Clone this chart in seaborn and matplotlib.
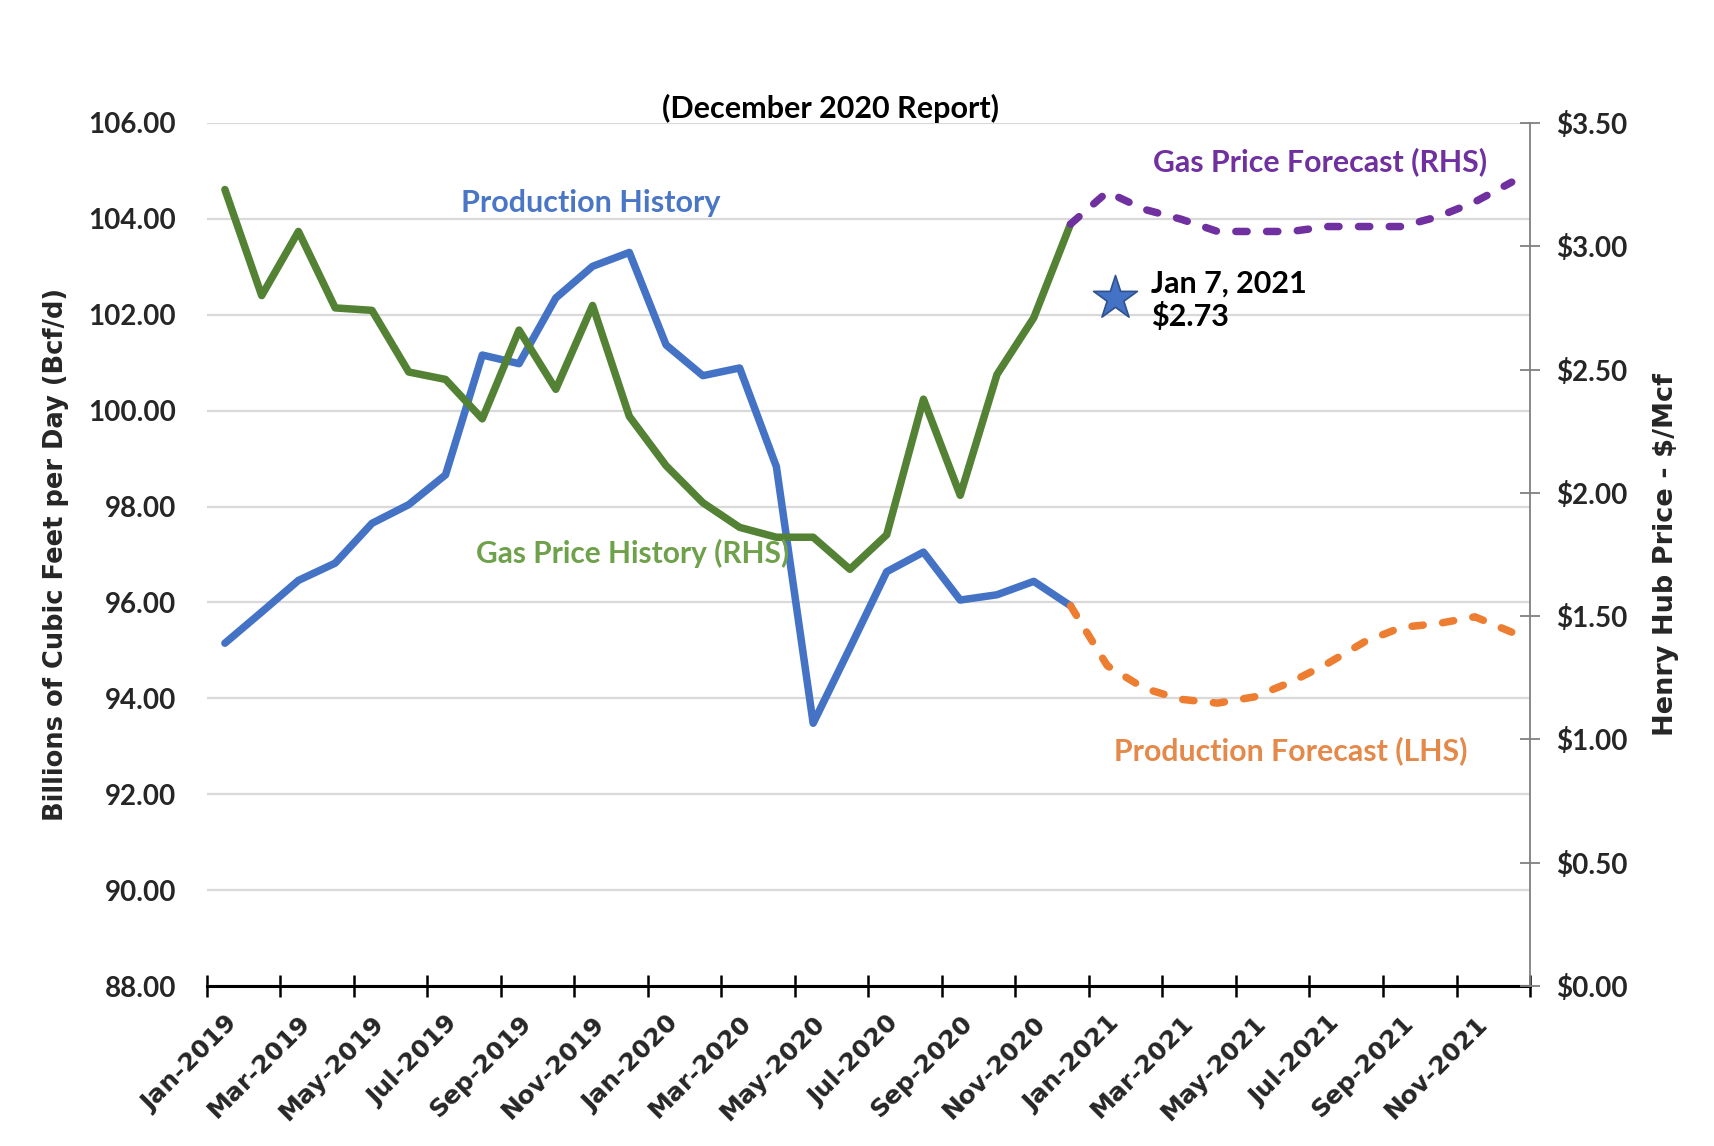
import numpy as np
import pandas as pd
import matplotlib
matplotlib.use("Agg")
import matplotlib.pyplot as plt
import seaborn as sns

# ---------------- data ----------------
tick_labels = ["Jan-2019", "Mar-2019", "May-2019", "Jul-2019", "Sep-2019", "Nov-2019",
               "Jan-2020", "Mar-2020", "May-2020", "Jul-2020", "Sep-2020", "Nov-2020",
               "Jan-2021", "Mar-2021", "May-2021", "Jul-2021", "Sep-2021", "Nov-2021"]
n_months = 36

# Production (Bcf/d), monthly Jan-2019 .. Dec-2020
prod_hist = [95.15, 95.80, 96.46, 96.82, 97.65, 98.04, 98.66, 101.16, 100.98, 102.35,
             103.01, 103.30, 101.37, 100.73, 100.89, 98.83, 93.48, 95.05, 96.64, 97.05,
             96.05, 96.16, 96.44, 95.93]
# Production forecast Dec-2020 .. Dec-2021
prod_fcst = [95.93, 94.68, 94.21, 93.98, 93.90, 94.03, 94.34, 94.73, 95.18, 95.48,
             95.56, 95.70, 95.38]
# Henry Hub price ($/Mcf), Jan-2019 .. Dec-2020
price_hist = [3.23, 2.80, 3.06, 2.75, 2.74, 2.49, 2.46, 2.30, 2.66, 2.42, 2.76, 2.31,
              2.11, 1.96, 1.86, 1.82, 1.82, 1.69, 1.83, 2.38, 1.99, 2.48, 2.71, 3.09]
# Price forecast Dec-2020 .. Dec-2021
price_fcst = [3.09, 3.22, 3.15, 3.11, 3.06, 3.06, 3.06, 3.08, 3.08, 3.08, 3.12, 3.18, 3.26]

star_x = 24.2          # Jan 7, 2021 (month index)
star_price = 2.79
star_label = "Jan 7, 2021\n$2.73"

left_ticks = [88, 90, 92, 94, 96, 98, 100, 102, 104, 106]
right_ticks = [0.0, 0.5, 1.0, 1.5, 2.0, 2.5, 3.0, 3.5]

df_ph = pd.DataFrame({"m": np.arange(len(prod_hist)), "v": prod_hist})
df_pf = pd.DataFrame({"m": np.arange(len(prod_hist) - 1, len(prod_hist) - 1 + len(prod_fcst)), "v": prod_fcst})
df_gh = pd.DataFrame({"m": np.arange(len(price_hist)), "v": price_hist})
df_gf = pd.DataFrame({"m": np.arange(len(price_hist) - 1, len(price_hist) - 1 + len(price_fcst)), "v": price_fcst})
df_star = pd.DataFrame({"m": [star_x], "v": [star_price]})

# ---------------- style ----------------
sns.set_style("white")
plt.rcParams["font.family"] = ["Lato", "DejaVu Sans"]
plt.rcParams["font.weight"] = "bold"

BLUE = "#4472C4"
GREEN = "#548235"
PURPLE = "#7030A0"
ORANGE = "#ED7D31"

fig = plt.figure(figsize=(17.14, 11.46), dpi=100)
ax = fig.add_axes([0.1205, 0.1396, 0.8927 - 0.1205, 0.8927 - 0.1396])
ax2 = ax.twinx()

lw = 5.4
dash = (0, (1.5, 2.6))
sns.lineplot(data=df_ph, x="m", y="v", ax=ax, color=BLUE, linewidth=lw,
             solid_joinstyle="round", solid_capstyle="round")
sns.lineplot(data=df_pf, x="m", y="v", ax=ax, color=ORANGE, linewidth=lw,
             linestyle=dash, dash_capstyle="round", dash_joinstyle="round")
sns.lineplot(data=df_gh, x="m", y="v", ax=ax2, color=GREEN, linewidth=lw,
             solid_joinstyle="round", solid_capstyle="round")
sns.lineplot(data=df_gf, x="m", y="v", ax=ax2, color=PURPLE, linewidth=lw,
             linestyle=dash, dash_capstyle="round", dash_joinstyle="round")
sns.scatterplot(data=df_star, x="m", y="v", ax=ax2, marker="*", s=1100,
                color=BLUE, edgecolor="#2F528F", linewidth=1.2, zorder=5)

# ---------------- axes ----------------
ax.set_xlim(-0.5, n_months - 0.5)
ax.set_ylim(88, 106)
ax2.set_ylim(0, 3.5)

ax.set_yticks(left_ticks)
ax.set_yticklabels([f"{t:.2f}" for t in left_ticks])
ax2.set_yticks(right_ticks)
ax2.set_yticklabels([f"${t:.2f}" for t in right_ticks])

ax.yaxis.grid(True, color="#D9D9D9", linewidth=1.6)
ax.xaxis.grid(False)
ax.set_axisbelow(True)

ax.set_xticks(np.arange(-0.5, n_months, 2))
ax.set_xticklabels([])
ax.set_xticks(np.arange(0, n_months, 2), minor=True)
ax.set_xticklabels(tick_labels, minor=True, rotation=45, ha="right",
                   rotation_mode="anchor", fontsize=18, fontweight="bold",
                   family="DejaVu Sans")
ax.tick_params(axis="x", which="major", direction="inout", length=16, width=1.8,
               color="black", bottom=True)
ax.tick_params(axis="x", which="minor", length=0, pad=18, bottom=True)
ax.tick_params(axis="y", which="both", length=0, pad=22, labelsize=20)

ax2.tick_params(axis="y", direction="inout", length=14, width=1.3, color="#808080",
                pad=12, labelsize=20)

for lab in ax.get_yticklabels() + ax2.get_yticklabels():
    lab.set_fontweight("bold")

for sp in ["top", "left", "right"]:
    ax.spines[sp].set_visible(False)
ax.spines["bottom"].set_color("black")
ax.spines["bottom"].set_linewidth(2.2)
for sp in ["top", "left", "bottom"]:
    ax2.spines[sp].set_visible(False)
ax2.spines["right"].set_color("#808080")
ax2.spines["right"].set_linewidth(1.3)

ax.set_xlabel("")
ax.set_ylabel("Billions of Cubic Feet per Day (Bcf/d)", fontsize=18.5, fontweight="bold",
              family="DejaVu Sans", labelpad=14)
ax2.set_ylabel("Henry Hub Price - $/Mcf", fontsize=19.5, fontweight="bold",
               family="DejaVu Sans", labelpad=18)

# ---------------- annotations ----------------
fig.text(831 / 1714, 1 - 108 / 1146, "(December 2020 Report)", ha="center", va="center",
         fontsize=22, fontweight="bold", color="black")
ax.text(9.95, 104.33, "Production History", ha="center", va="center", fontsize=22,
        fontweight="bold", color="#4A76C6")
ax2.text(11.1, 1.756, "Gas Price History (RHS)", ha="center", va="center", fontsize=21.5,
         fontweight="bold", color="#6FA14B")
ax2.text(29.8, 3.342, "Gas Price Forecast (RHS)", ha="center", va="center", fontsize=21.8,
         fontweight="bold", color=PURPLE)
ax.text(29.0, 92.91, "Production Forecast (LHS)", ha="center", va="center", fontsize=21.8,
        fontweight="bold", color="#E5894A")
ax2.text(25.2, 2.78, star_label, ha="left", va="center", fontsize=22,
         fontweight="bold", color="black", linespacing=1.2)

fig.savefig("out.png", dpi=100, facecolor="white")
